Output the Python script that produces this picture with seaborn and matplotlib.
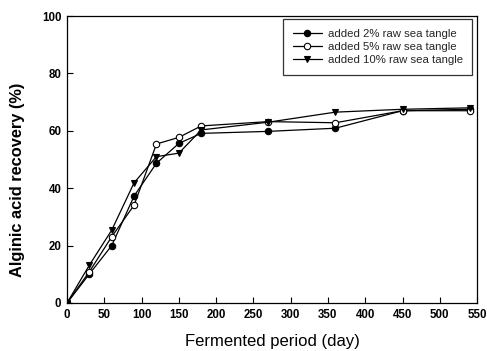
import matplotlib
matplotlib.use("Agg")
import matplotlib.pyplot as plt
import seaborn as sns
import pandas as pd

days = [0, 30, 60, 90, 120, 150, 180, 270, 360, 450, 540]
rec_2 = [0, 10.1, 20.0, 37.3, 48.7, 55.6, 59.1, 59.8, 60.9, 67.0, 67.5]
rec_5 = [0, 10.9, 23.1, 34.1, 55.4, 57.7, 61.7, 63.2, 62.8, 67.0, 67.0]
rec_10 = [0, 13.2, 25.4, 41.9, 51.0, 52.2, 60.3, 63.0, 66.5, 67.5, 68.0]
labels = ["added 2% raw sea tangle", "added 5% raw sea tangle", "added 10% raw sea tangle"]
x_ticks = [0, 50, 100, 150, 200, 250, 300, 350, 400, 450, 500, 550]
y_ticks = [0, 20, 40, 60, 80, 100]

sns.set_theme(style="white")
plt.rcParams['font.family'] = ['Liberation Sans', 'DejaVu Sans']

fig = plt.figure(figsize=(4.87, 3.51), dpi=100)
ax = fig.add_axes([0.1376, 0.1368, 0.842, 0.8176])

styles = [
    dict(marker='o', markerfacecolor='black', markeredgecolor='black', markersize=4.6),
    dict(marker='o', markerfacecolor='white', markeredgecolor='black', markersize=4.6),
    dict(marker='v', markerfacecolor='black', markeredgecolor='black', markersize=5.0),
]
for vals, lab, st in zip([rec_2, rec_5, rec_10], labels, styles):
    df = pd.DataFrame({"day": days, "rec": vals})
    sns.lineplot(data=df, x="day", y="rec", ax=ax, color='black', linewidth=0.9,
                 markeredgewidth=0.8, label=lab, **st)

ax.set_xlim(0, 550)
ax.set_ylim(0, 100)
ax.set_xticks(x_ticks)
ax.set_yticks(y_ticks)
ax.tick_params(direction='in', length=4, width=0.8, colors='black', labelsize=8.3,
               top=False, right=False, bottom=True, left=True, pad=4)
for lbl in ax.get_xticklabels() + ax.get_yticklabels():
    lbl.set_fontweight('bold')
for sp in ax.spines.values():
    sp.set_color('black')
    sp.set_linewidth(0.9)

ax.set_xlabel("Fermented period (day)", fontsize=12, color='black')
ax.xaxis.set_label_coords(0.5, -0.108)
ax.xaxis.label.set_verticalalignment('top')
ax.set_ylabel("Alginic acid recovery (%)", fontsize=11.8, fontweight='bold', color='black')
ax.yaxis.set_label_coords(-0.103, 0.43)

leg = ax.legend(loc='upper right', bbox_to_anchor=(0.988, 0.988), fontsize=8.2,
                frameon=True, fancybox=False, edgecolor='black', handlelength=2.6,
                borderpad=0.8, labelspacing=0.3, handletextpad=0.5, borderaxespad=0)
leg.get_frame().set_linewidth(0.9)

fig.savefig("out.png", dpi=100)
